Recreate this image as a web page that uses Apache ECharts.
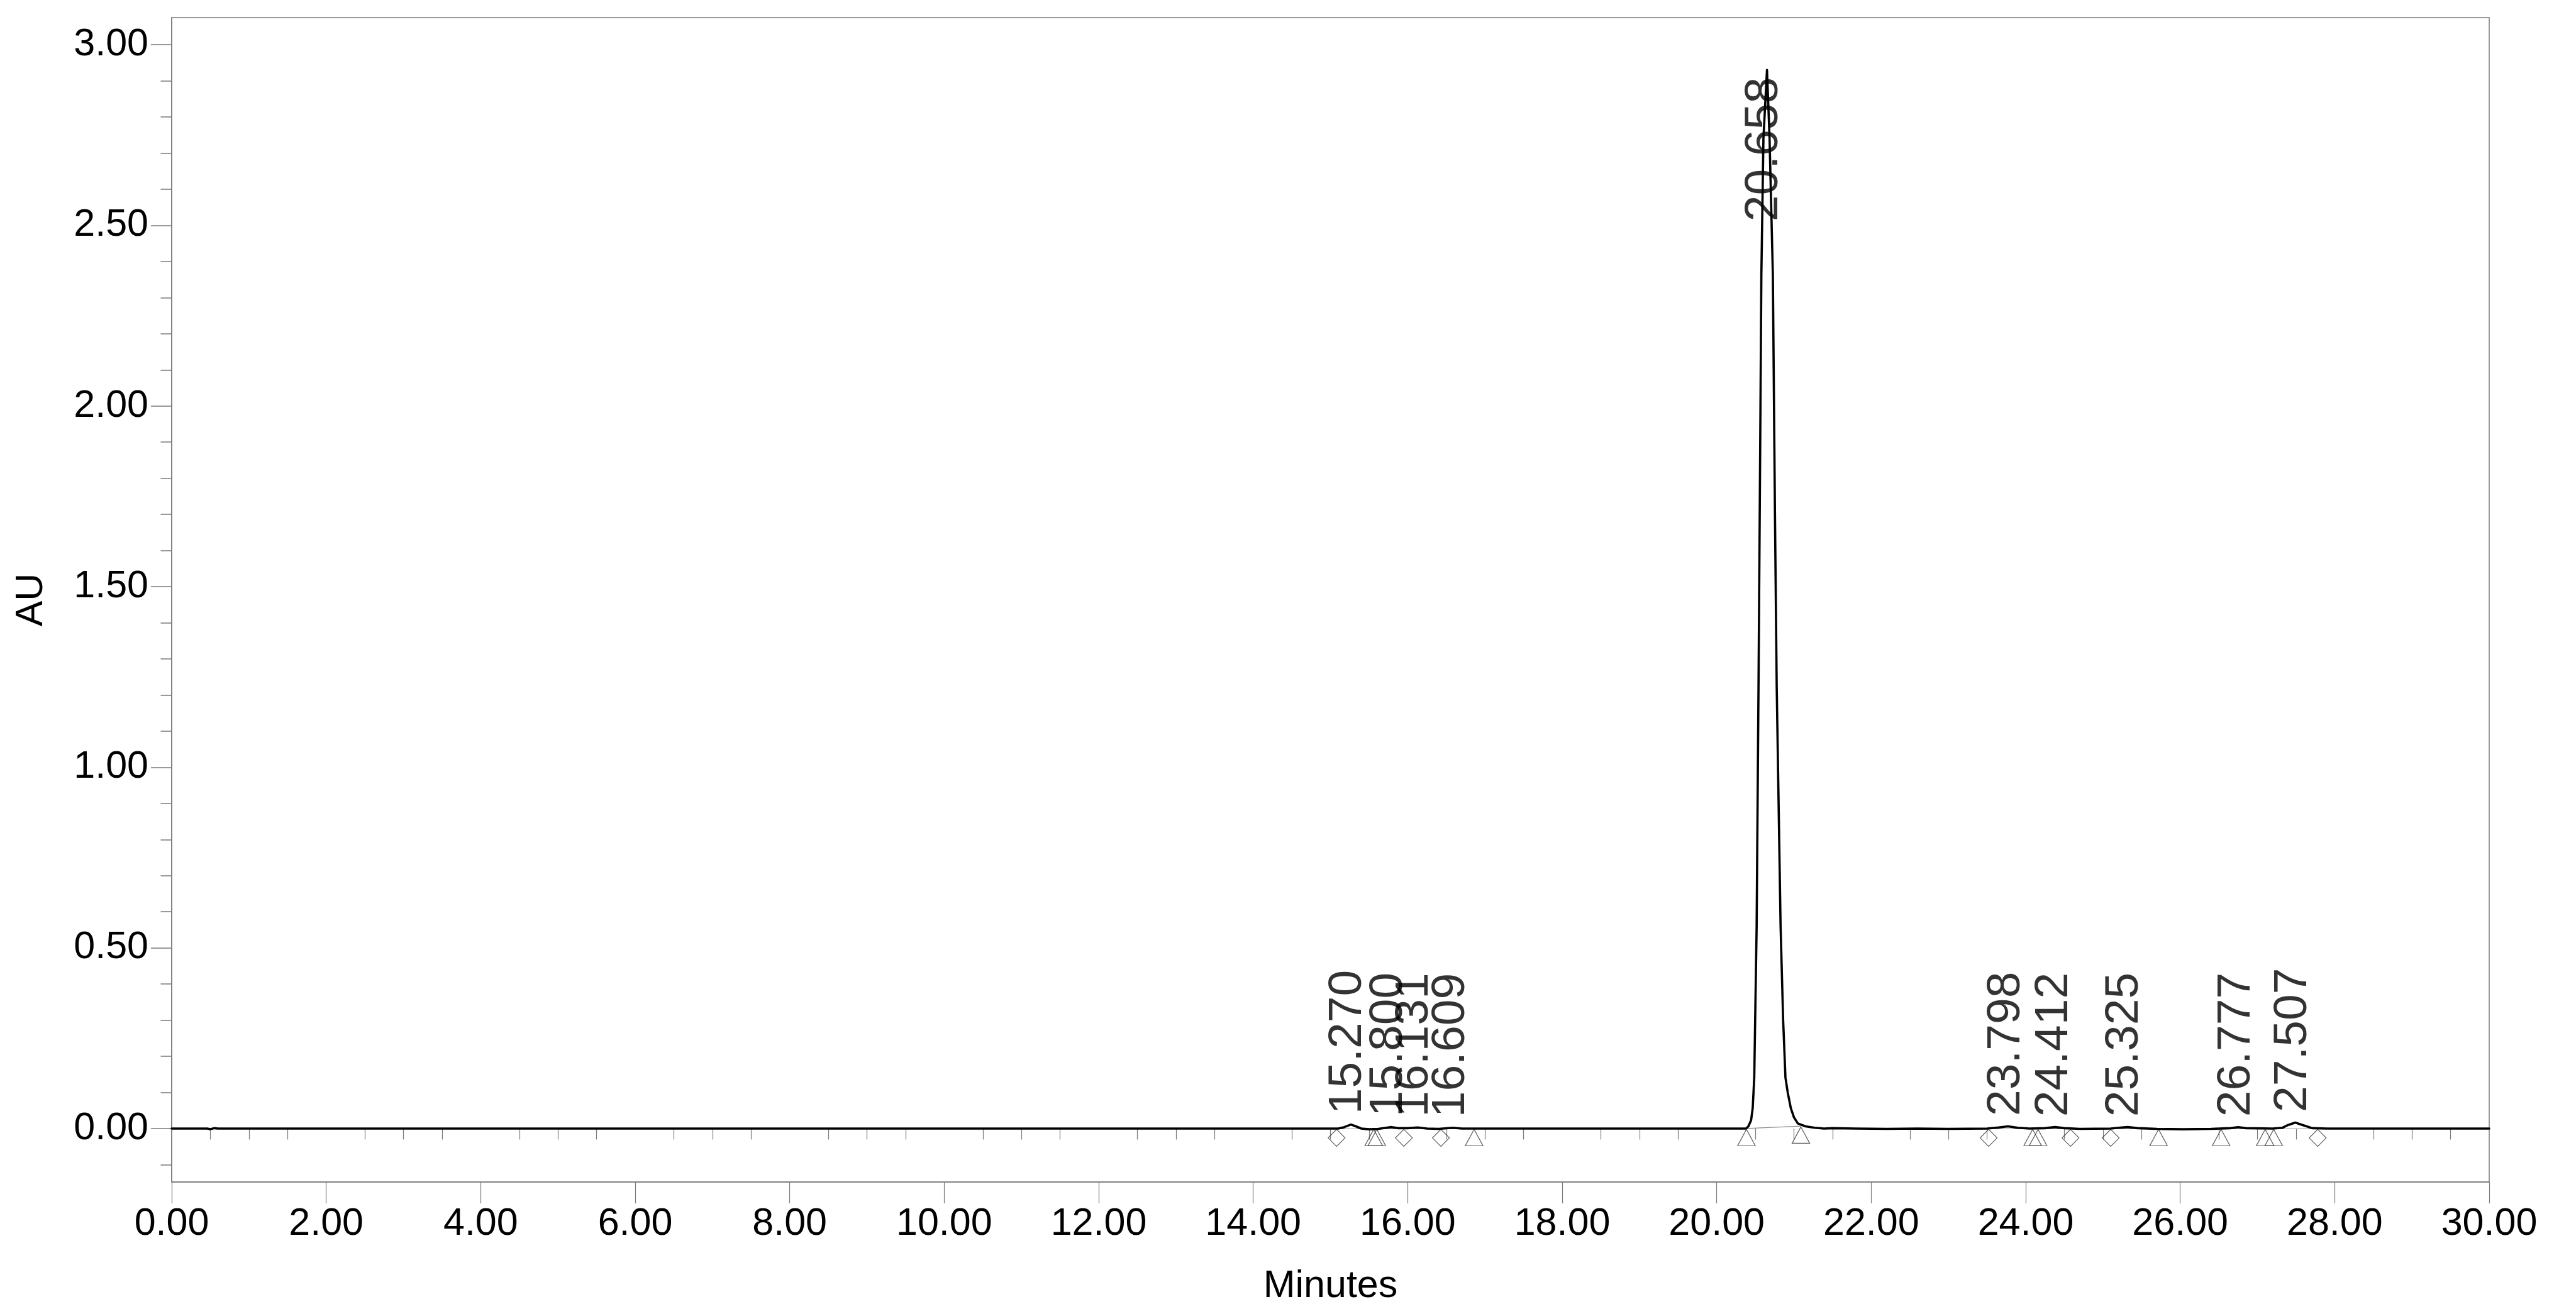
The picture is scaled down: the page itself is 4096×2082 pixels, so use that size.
<!DOCTYPE html>
<html><head><meta charset="utf-8">
<script src="https://cdn.jsdelivr.net/npm/echarts@6/dist/echarts.min.js"></script>
<style>html,body{margin:0;padding:0;background:#fff}#c{width:4096px;height:2082px}</style>
</head><body><div id="c"></div>
<script>
// ---- chromatogram trace (minutes, AU) ----
const traceTime = [0.00,0.46,0.50,0.55,0.60,14.90,15.10,15.18,15.265,15.33,15.40,15.50,15.62,15.72,15.79,15.88,16.00,16.13,16.25,16.40,16.585,16.70,
  20.30,20.38,20.41,20.445,20.466,20.486,20.517,20.541,20.557,20.578,20.605,20.651,20.684,20.727,20.754,20.777,20.827,20.86,20.890,20.92,20.96,21.00,21.05,21.15,21.27,21.39,21.50,
  21.80,22.20,22.60,23.00,23.50,23.65,23.77,23.90,24.05,24.25,24.38,24.50,24.70,25.10,25.20,25.32,25.45,25.70,26.04,26.40,26.65,26.75,26.85,
  27.20,27.32,27.40,27.49,27.58,27.71,27.90,30.00];
const traceAU = [0.000,0.000,-0.002,0.001,0.000,0.000,0.000,0.004,0.011,0.006,0.000,-0.002,-0.001,0.002,0.004,0.001,0.001,0.003,0.000,-0.001,0.002,0.000,
  0.000,0.000,0.006,0.023,0.056,0.141,0.560,1.220,1.702,2.361,2.742,2.930,2.742,2.361,1.702,1.220,0.560,0.300,0.141,0.099,0.056,0.031,0.014,0.006,0.002,0.000,0.001,
  0.000,-0.001,0.000,-0.001,0.000,0.003,0.006,0.002,0.000,0.001,0.004,0.001,-0.001,0.000,0.002,0.004,0.001,-0.001,-0.002,-0.001,0.001,0.004,0.001,
  0.000,0.002,0.010,0.0165,0.010,0.001,0.000,0.000];

// ---- peak labels ----
const peakRT = [15.270,15.800,16.131,16.609,20.658,23.798,24.412,25.325,26.777,27.507];
const peakApexAU = [0.011,0.004,0.003,0.002,2.930,0.006,0.004,0.004,0.004,0.0165];

// ---- integration marks (D = diamond, T = triangle) ----
const markTime = [15.08,15.56,15.60,15.95,16.43,16.86,20.385,21.09,23.52,24.09,24.16,24.58,25.10,25.72,26.53,27.10,27.21,27.78];
const markAU   = [0,0,0,0,0,0,0,0.0067,0,0,0,0,0,0,0,0,0,0];
const markKind = ['D','T','T','D','D','T','T','T','D','T','T','D','D','T','T','T','T','D'];

// ---- integration baselines ----
const baseStartT = [15.08,15.60,20.385,23.52,24.16,26.53,27.21];
const baseStartAU = [0,0,0,0,0,0,0];
const baseEndT = [15.56,16.86,21.09,24.09,25.72,27.10,27.78];
const baseEndAU = [0,0,0.0067,0,0,0,0];

// ---- axes ----
const yTickLabels = [0,0.5,1.0,1.5,2.0,2.5,3.0];
const yMinorTicks = [-0.1,0,0.1,0.2,0.3,0.4,0.5,0.6,0.7,0.8,0.9,1.0,1.1,1.2,1.3,1.4,1.5,1.6,1.7,1.8,1.9,2.0,2.1,2.2,2.3,2.4,2.5,2.6,2.7,2.8,2.9,3.0];
const xTickLabels = [0,2,4,6,8,10,12,14,16,18,20,22,24,26,28,30];
const xMinorTicks = [];
for (let i = 0; i < xTickLabels.length - 1; i++) { for (const f of [0.5,1,1.5]) xMinorTicks.push(xTickLabels[i] + f); }

const FONT = 'Liberation Sans, Arial, sans-serif';
const GRAY = '#7a7a7a';
const Y_MIN = -0.148, Y_MAX = 3.075;

const trace = traceTime.map((t,i)=>[t, traceAU[i]]);
const diamonds = [], triangles = [];
markTime.forEach((t,i)=>{ (markKind[i]==='D'?diamonds:triangles).push([t, markAU[i]]); });
const baseLines = baseStartT.map((t,i)=>({coords:[[t, baseStartAU[i]],[baseEndT[i], baseEndAU[i]]]}));
const peakData = peakRT.map((t,i)=>{
  const big = peakApexAU[i] > 1;
  return {value:[t, peakApexAU[i]], label:{position: big ? [-5, 12] : [-5, -16], align: big ? 'right' : 'left'}};
});

const chart = echarts.init(document.getElementById('c'), null, {renderer:'canvas'});
chart.setOption({
  animation:false,
  backgroundColor:'#fff',
  grid:{left:273, top:28, width:3685, height:1858, show:true, borderColor:GRAY, borderWidth:1.5, containLabel:false},
  xAxis:[{
    type:'value', min:0, max:30, interval:2,
    name:'Minutes', nameLocation:'middle', nameGap:136,
    nameTextStyle:{fontFamily:FONT, fontSize:61, color:'#000'},
    axisLine:{show:true, onZero:false, lineStyle:{color:GRAY, width:1.5}},
    axisTick:{show:true, length:34, lineStyle:{color:GRAY, width:1.2}},
    minorTick:{show:false},
    splitLine:{show:false},
    axisLabel:{fontFamily:FONT, fontSize:61, color:'#000', margin:37, formatter:v=>v.toFixed(2), showMaxLabel:true, showMinLabel:true}
  },{
    type:'value', min:0, max:30, position:'bottom',
    axisLine:{show:false}, axisLabel:{show:false}, splitLine:{show:false},
    axisTick:{show:true, length:17.5, customValues:xMinorTicks, lineStyle:{color:GRAY, width:1.2}}
  }],
  yAxis:[{
    type:'value', min:Y_MIN, max:Y_MAX,
    name:'AU', nameLocation:'middle', nameGap:192,
    nameTextStyle:{fontFamily:FONT, fontSize:61, color:'#000'},
    axisLine:{show:true, onZero:false, lineStyle:{color:GRAY, width:1.5}},
    axisTick:{show:true, length:33, customValues:yTickLabels, lineStyle:{color:GRAY, width:1.5}},
    splitLine:{show:false},
    axisLabel:{fontFamily:FONT, fontSize:61, color:'#000', margin:37, customValues:yTickLabels, formatter:v=>v.toFixed(2)}
  },{
    type:'value', min:Y_MIN, max:Y_MAX, position:'left',
    axisLine:{show:false}, axisLabel:{show:false}, splitLine:{show:false},
    axisTick:{show:true, length:17.5, customValues:yMinorTicks, lineStyle:{color:GRAY, width:1.5}}
  }],
  series:[
    {type:'lines', coordinateSystem:'cartesian2d', xAxisIndex:0, yAxisIndex:0, data:baseLines,
     lineStyle:{color:'#8c8c8c', width:1.2, opacity:1}, z:1, silent:true},
    {type:'line', data:trace, xAxisIndex:0, yAxisIndex:0, showSymbol:false, symbol:'none',
     lineStyle:{color:'#000', width:3.6, join:'round', cap:'round'}, z:3, silent:true},
    {type:'scatter', data:diamonds, symbol:'diamond', symbolSize:[27,27], symbolOffset:[0,'55%'],
     itemStyle:{color:'rgba(255,255,255,0)', borderColor:'#333', borderWidth:1.2}, z:2, silent:true},
    {type:'scatter', data:triangles, symbol:'triangle', symbolSize:[28,26], symbolOffset:[0,'55%'],
     itemStyle:{color:'rgba(255,255,255,0)', borderColor:'#333', borderWidth:1.2}, z:2, silent:true},
    {type:'scatter', data:peakData, symbolSize:1, itemStyle:{color:'rgba(0,0,0,0)'}, z:4, silent:true,
     label:{show:true, rotate:90, verticalAlign:'middle', fontFamily:FONT, fontSize:75, color:'#000',
       formatter:p=>p.value[0].toFixed(3)}}
  ]
});
</script></body></html>
